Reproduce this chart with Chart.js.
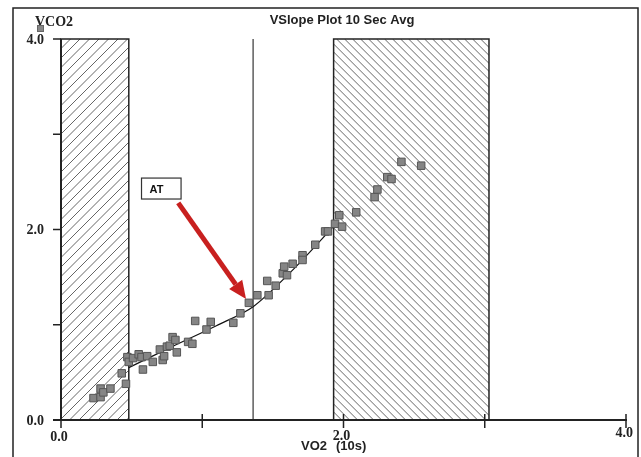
<!DOCTYPE html>
<html>
<head>
<meta charset="utf-8">
<script src="https://cdn.jsdelivr.net/npm/chart.js@4"></script>
<style>
  body { margin: 0; background: #fff; }
  canvas { display: block; }
</style>
</head>
<body>
<canvas id="vslope" width="641" height="457"></canvas>
<script>
// VO2 / VCO2 samples (L/min), 10 second averages
var vo2 = [0.23, 0.28, 0.28, 0.30, 0.35, 0.43, 0.46, 0.47, 0.48, 0.51, 0.55, 0.57, 0.61, 0.58, 0.65,
           0.70, 0.72, 0.73, 0.75, 0.77, 0.79, 0.81, 0.82, 0.90, 0.93, 0.95, 1.03, 1.06, 1.22, 1.27,
           1.33, 1.39, 1.46, 1.47, 1.52, 1.57, 1.58, 1.60, 1.64, 1.71, 1.71, 1.80, 1.87, 1.89, 1.94,
           1.97, 1.99, 2.09, 2.22, 2.24, 2.31, 2.34, 2.41, 2.55];
var vco2 = [0.23, 0.24, 0.33, 0.29, 0.33, 0.49, 0.38, 0.66, 0.61, 0.65, 0.69, 0.66, 0.67, 0.53, 0.61,
            0.74, 0.63, 0.67, 0.77, 0.78, 0.87, 0.84, 0.71, 0.82, 0.80, 1.04, 0.95, 1.03, 1.02, 1.12,
            1.23, 1.31, 1.46, 1.31, 1.41, 1.54, 1.61, 1.52, 1.64, 1.73, 1.68, 1.84, 1.98, 1.98, 2.06,
            2.15, 2.03, 2.18, 2.34, 2.42, 2.55, 2.53, 2.71, 2.67];

// fitted slope line
var fitX = [0.48, 0.80, 1.10, 1.36, 1.65, 1.94];
var fitY = [0.55, 0.78, 0.99, 1.19, 1.59, 2.05];

// excluded (hatched) ranges and the AT marker
var leftBand = [0, 0.48];
var rightBand = [1.93, 3.03];
var atVO2 = 1.36;
var atArrow = [0.83, 2.28, 1.31, 1.27];   // from x,y to x,y
var atBox = [0.57, 2.54, 0.85, 2.32];

var xTicks = [0, 1, 2, 3, 4];
var yTicks = [0, 1, 2, 3, 4];
var xTickLabels = ['0.0', '2.0', '4.0'];
var yTickLabels = ['0.0', '2.0', '4.0'];

var points = vo2.map(function (v, i) { return { x: v, y: vco2[i] }; });
var fit = fitX.map(function (v, i) { return { x: v, y: fitY[i] }; });

function hatch(ctx, x0, y0, x1, y1, step, dir) {
    var h = y1 - y0;
    ctx.save();
    ctx.beginPath();
    ctx.rect(x0, y0, x1 - x0, h);
    ctx.clip();
    ctx.beginPath();
    for (var s = x0 - h; s < x1 + h; s += step) {
        if (dir > 0) {
            ctx.moveTo(s, y1);
            ctx.lineTo(s + h, y0);
        } else {
            ctx.moveTo(s, y0);
            ctx.lineTo(s + h, y1);
        }
    }
    ctx.strokeStyle = '#666';
    ctx.lineWidth = 1;
    ctx.stroke();
    ctx.restore();
}

var plotDecor = {
    id: 'plotDecor',
    beforeDatasetsDraw: function (chart) {
        var ctx = chart.ctx;
        var xs = chart.scales.x, ys = chart.scales.y;
        var top = ys.getPixelForValue(4), bottom = ys.getPixelForValue(0);

        ctx.save();
        ctx.fillStyle = '#fff';
        ctx.fillRect(0, 0, chart.width, chart.height);

        // outer frame
        ctx.strokeStyle = '#222';
        ctx.lineWidth = 1.5;
        ctx.strokeRect(13, 8, 625, 460);

        var l0 = xs.getPixelForValue(leftBand[0]), l1 = xs.getPixelForValue(leftBand[1]);
        var r0 = xs.getPixelForValue(rightBand[0]), r1 = xs.getPixelForValue(rightBand[1]);
        hatch(ctx, l0, top, l1, bottom, 9.5, 1);
        hatch(ctx, r0, top, r1, bottom, 8, -1);

        ctx.strokeStyle = '#222';
        ctx.lineWidth = 1.5;
        ctx.strokeRect(l0, top, l1 - l0, bottom - top);
        ctx.strokeRect(r0, top, r1 - r0, bottom - top);

        // AT line
        var ax = xs.getPixelForValue(atVO2);
        ctx.strokeStyle = '#444';
        ctx.lineWidth = 1.3;
        ctx.beginPath();
        ctx.moveTo(ax, top);
        ctx.lineTo(ax, bottom);
        ctx.stroke();

        // axes
        ctx.strokeStyle = '#222';
        ctx.lineWidth = 2;
        ctx.beginPath();
        ctx.moveTo(xs.getPixelForValue(0), top);
        ctx.lineTo(xs.getPixelForValue(0), bottom);
        ctx.moveTo(xs.getPixelForValue(0) - 8, bottom);
        ctx.lineTo(xs.getPixelForValue(4) + 1, bottom);
        ctx.stroke();

        ctx.lineWidth = 1.5;
        ctx.beginPath();
        yTicks.forEach(function (t) {
            var py = ys.getPixelForValue(t);
            ctx.moveTo(xs.getPixelForValue(0) - 8, py);
            ctx.lineTo(xs.getPixelForValue(0), py);
        });
        xTicks.forEach(function (t) {
            var px = xs.getPixelForValue(t);
            ctx.moveTo(px, t === 0 ? bottom : bottom - 6);
            ctx.lineTo(px, bottom + 8);
        });
        ctx.stroke();
        ctx.restore();
    },
    afterDatasetsDraw: function (chart) {
        var ctx = chart.ctx;
        var xs = chart.scales.x, ys = chart.scales.y;
        ctx.save();

        // AT arrow
        var x0 = xs.getPixelForValue(atArrow[0]), y0 = ys.getPixelForValue(atArrow[1]);
        var x1 = xs.getPixelForValue(atArrow[2]), y1 = ys.getPixelForValue(atArrow[3]);
        var ang = Math.atan2(y1 - y0, x1 - x0);
        var headLen = 18, headW = 8;
        var bx = x1 - headLen * Math.cos(ang), by = y1 - headLen * Math.sin(ang);
        ctx.strokeStyle = '#c8201f';
        ctx.fillStyle = '#c8201f';
        ctx.lineWidth = 5;
        ctx.beginPath();
        ctx.moveTo(x0, y0);
        ctx.lineTo(bx, by);
        ctx.stroke();
        ctx.beginPath();
        ctx.moveTo(x1, y1);
        ctx.lineTo(bx + headW * Math.sin(ang), by - headW * Math.cos(ang));
        ctx.lineTo(bx - headW * Math.sin(ang), by + headW * Math.cos(ang));
        ctx.closePath();
        ctx.fill();

        // AT box
        var bx0 = xs.getPixelForValue(atBox[0]), by0 = ys.getPixelForValue(atBox[1]);
        var bx1 = xs.getPixelForValue(atBox[2]), by1 = ys.getPixelForValue(atBox[3]);
        ctx.fillStyle = '#fff';
        ctx.fillRect(bx0, by0, bx1 - bx0, by1 - by0);
        ctx.strokeStyle = '#333';
        ctx.lineWidth = 1.2;
        ctx.strokeRect(bx0, by0, bx1 - bx0, by1 - by0);
        ctx.fillStyle = '#111';
        ctx.font = 'bold 11px "Liberation Sans", Arial, sans-serif';
        ctx.textBaseline = 'middle';
        ctx.textAlign = 'left';
        ctx.fillText('AT', bx0 + 8, (by0 + by1) / 2 + 1);

        // title and axis titles
        ctx.fillStyle = '#222';
        ctx.font = 'bold 13px "Liberation Sans", Arial, sans-serif';
        ctx.textAlign = 'center';
        ctx.fillText('VSlope Plot 10 Sec Avg', 342, 20);
        ctx.textAlign = 'left';
        ctx.fillText('VO2', 301, 446);
        ctx.fillText('(10s)', 336, 446);

        ctx.font = 'bold 14px "Liberation Serif", "Times New Roman", serif';
        ctx.fillText('VCO2', 35, 22);
        ctx.fillStyle = '#888';
        ctx.fillRect(37, 25, 7, 7);
        ctx.strokeStyle = '#666';
        ctx.lineWidth = 1;
        ctx.strokeRect(37.5, 25.5, 6, 6);

        // tick labels
        ctx.fillStyle = '#222';
        ctx.font = 'bold 14px "Liberation Serif", "Times New Roman", serif';
        ctx.textAlign = 'right';
        yTickLabels.forEach(function (lab) {
            ctx.fillText(lab, 44, ys.getPixelForValue(parseFloat(lab)) + 1);
        });
        var xLabY = [437, 436, 433];
        xTickLabels.forEach(function (lab, i) {
            var v = parseFloat(lab);
            var px = xs.getPixelForValue(v);
            if (v === 4) {
                ctx.textAlign = 'right';
                ctx.fillText(lab, px + 7, xLabY[i]);
            } else {
                ctx.textAlign = 'center';
                ctx.fillText(lab, px - 2, xLabY[i]);
            }
        });
        ctx.restore();
    }
};

new Chart(document.getElementById('vslope').getContext('2d'), {
    type: 'scatter',
    data: {
        datasets: [
            {
                label: 'VCO2',
                data: points,
                pointStyle: 'rect',
                pointRadius: 5.3,
                backgroundColor: '#858585',
                borderColor: '#555',
                borderWidth: 1
            },
            {
                label: 'fit',
                type: 'line',
                data: fit,
                showLine: true,
                pointRadius: 0,
                borderColor: '#111',
                borderWidth: 1.2,
                tension: 0.3,
                fill: false
            }
        ]
    },
    options: {
        responsive: false,
        animation: false,
        layout: { padding: { left: 61, right: 15, top: 39, bottom: 37 } },
        scales: {
            x: { type: 'linear', min: 0, max: 4, display: false },
            y: { type: 'linear', min: 0, max: 4, display: false }
        },
        plugins: {
            legend: { display: false },
            tooltip: { enabled: false }
        }
    },
    plugins: [plotDecor]
});
</script>
</body>
</html>
